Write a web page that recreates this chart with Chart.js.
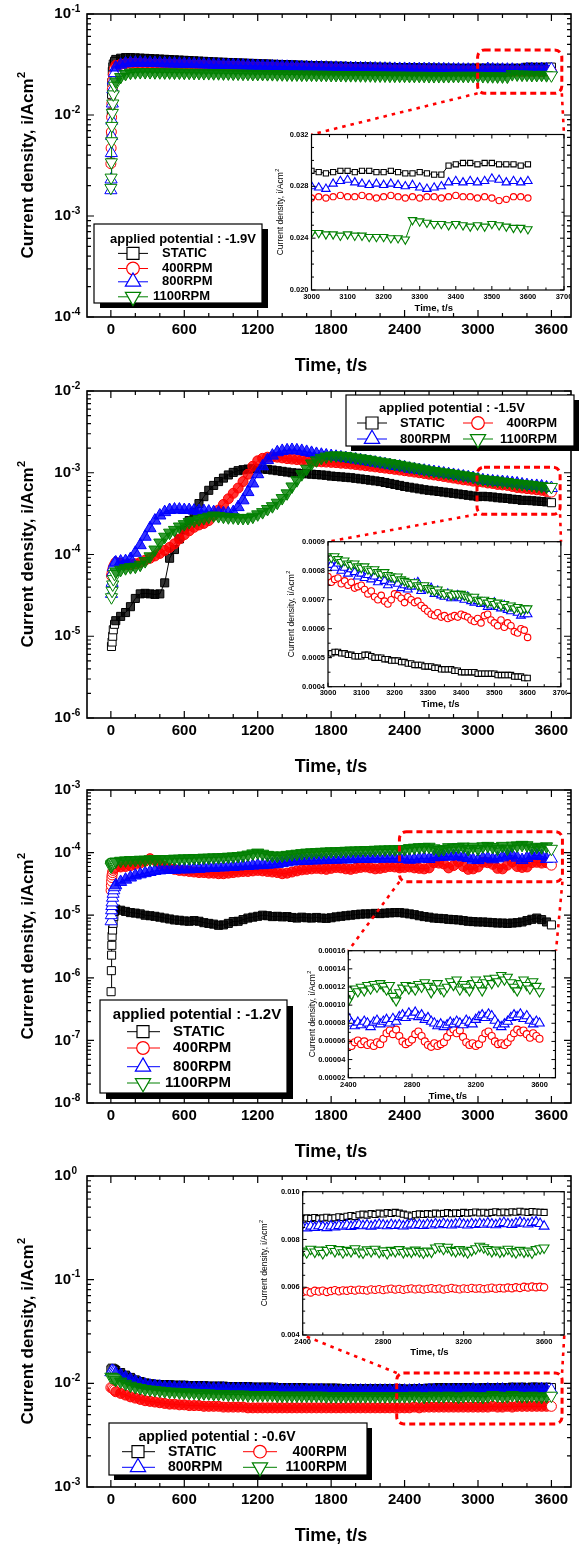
<!DOCTYPE html>
<html>
<head>
<meta charset="utf-8">
<title>Current density vs time</title>
<script src="https://cdn.jsdelivr.net/npm/chart.js@4.4.1/dist/chart.umd.min.js"></script>
<style>
  html, body { margin: 0; padding: 0; background: #fff; }
  #fig { position: relative; width: 579px; height: 1544px; overflow: hidden; background: #fff; }
  #fig canvas { position: absolute; }
</style>
</head>
<body>
<div id="fig"></div>
<script>
// ---------- categories / tick labels ----------
const seriesNames = ['STATIC', '400RPM', '800RPM', '1100RPM'];
const potentials = ['-1.9V', '-1.5V', '-1.2V', '-0.6V'];
const xTickLabels = [0, 600, 1200, 1800, 2400, 3000, 3600];
const decades1 = [-4, -3, -2, -1];
const decades2 = [-6, -5, -4, -3, -2];
const decades3 = [-8, -7, -6, -5, -4, -3];
const decades4 = [-3, -2, -1, 0];
const zoomTicksShort = [3000, 3100, 3200, 3300, 3400, 3500, 3600, 3700];
const zoomTicksLong = [2400, 2800, 3200, 3600];
const zoom1Y = [0.020, 0.024, 0.028, 0.032];
const zoom2Y = [0.0004, 0.0005, 0.0006, 0.0007, 0.0008, 0.0009];
const zoom3Y = [0.00002, 0.00004, 0.00006, 0.00008, 0.00010, 0.00012, 0.00014, 0.00016];
const zoom4Y = [0.004, 0.006, 0.008, 0.010];

// ---------- sampling times, s ----------
const tMain = [
  40, 80, 120, 160, 200, 240, 280, 320, 360, 400,
  440, 480, 520, 560, 600, 640, 680, 720, 760, 800,
  840, 880, 920, 960, 1000, 1040, 1080, 1120, 1160, 1200,
  1240, 1280, 1320, 1360, 1400, 1440, 1480, 1520, 1560, 1600,
  1640, 1680, 1720, 1760, 1800, 1840, 1880, 1920, 1960, 2000,
  2040, 2080, 2120, 2160, 2200, 2240, 2280, 2320, 2360, 2400,
  2440, 2480, 2520, 2560, 2600, 2640, 2680, 2720, 2760, 2800,
  2840, 2880, 2920, 2960, 3000, 3040, 3080, 3120, 3160, 3200,
  3240, 3280, 3320, 3360, 3400, 3440, 3480, 3520, 3560, 3600
];
const p1Head = [0, 2, 4, 6, 8, 12, 16, 20, 30];
const p2Head = [5, 10, 15, 20, 30];
const p3Head = [2, 4, 6, 8, 10, 14, 18, 24, 30];
const p4Head = [0, 10, 20, 30];
const tZoom20 = [
  3000, 3020, 3040, 3060, 3080, 3100, 3120, 3140, 3160, 3180,
  3200, 3220, 3240, 3260, 3280, 3300, 3320, 3340, 3360, 3380,
  3400, 3420, 3440, 3460, 3480, 3500, 3520, 3540, 3560, 3580, 3600
];
const tZoom10 = [
  3000, 3010, 3020, 3030, 3040, 3050, 3060, 3070, 3080, 3090,
  3100, 3110, 3120, 3130, 3140, 3150, 3160, 3170, 3180, 3190,
  3200, 3210, 3220, 3230, 3240, 3250, 3260, 3270, 3280, 3290,
  3300, 3310, 3320, 3330, 3340, 3350, 3360, 3370, 3380, 3390,
  3400, 3410, 3420, 3430, 3440, 3450, 3460, 3470, 3480, 3490,
  3500, 3510, 3520, 3530, 3540, 3550, 3560, 3570, 3580, 3590, 3600
];
const tZoomLong = [
  2400, 2420, 2440, 2460, 2480, 2500, 2520, 2540, 2560, 2580,
  2600, 2620, 2640, 2660, 2680, 2700, 2720, 2740, 2760, 2780,
  2800, 2820, 2840, 2860, 2880, 2900, 2920, 2940, 2960, 2980,
  3000, 3020, 3040, 3060, 3080, 3100, 3120, 3140, 3160, 3180,
  3200, 3220, 3240, 3260, 3280, 3300, 3320, 3340, 3360, 3380,
  3400, 3420, 3440, 3460, 3480, 3500, 3520, 3540, 3560, 3580, 3600
];

// ---------- -1.9 V, current density (A/cm2) ----------
const p1Static = [
  0.0034, 0.0062, 0.0105, 0.016, 0.021, 0.027, 0.030, 0.032, 0.034,
  0.0355, 0.0365, 0.037, 0.037, 0.0368, 0.0366, 0.0364, 0.0362, 0.036, 0.0358,
  0.0356, 0.0354, 0.0352, 0.035, 0.0348, 0.0346, 0.0344, 0.0342, 0.034, 0.0338,
  0.0336, 0.0334, 0.0333, 0.0331, 0.033, 0.0328, 0.0327, 0.0325, 0.0324, 0.0322,
  0.0321, 0.032, 0.0318, 0.0317, 0.0316, 0.0315, 0.0314, 0.0312, 0.0311, 0.031,
  0.0309, 0.0308, 0.0307, 0.0306, 0.0305, 0.0304, 0.0304, 0.0303, 0.0302, 0.0301,
  0.030, 0.030, 0.0299, 0.0298, 0.0297, 0.0297, 0.0296, 0.0295, 0.0295, 0.0294,
  0.0294, 0.0293, 0.0293, 0.0292, 0.0292, 0.0292, 0.0291, 0.0291, 0.0291, 0.029,
  0.029, 0.029, 0.029, 0.0291, 0.0291, 0.029, 0.0291, 0.029, 0.029, 0.029,
  0.0289, 0.029, 0.029, 0.029, 0.0297, 0.0297, 0.0296, 0.0297, 0.0297, 0.0298
];
const p1R400 = [
  0.0033, 0.0047, 0.0068, 0.0095, 0.013, 0.018, 0.022, 0.025, 0.029,
  0.031, 0.0318, 0.0322, 0.0324, 0.0324, 0.0323, 0.0322, 0.0321, 0.032, 0.0319,
  0.0318, 0.0317, 0.0316, 0.0314, 0.0313, 0.0312, 0.0311, 0.031, 0.0309, 0.0308,
  0.0307, 0.0306, 0.0305, 0.0304, 0.0303, 0.0302, 0.0301, 0.030, 0.0299, 0.0298,
  0.0297, 0.0296, 0.0295, 0.0294, 0.0293, 0.0292, 0.0291, 0.029, 0.029, 0.0289,
  0.0288, 0.0287, 0.0287, 0.0286, 0.0285, 0.0285, 0.0284, 0.0283, 0.0283, 0.0282,
  0.0282, 0.0281, 0.0281, 0.028, 0.028, 0.0279, 0.0279, 0.0278, 0.0278, 0.0277,
  0.0277, 0.0276, 0.0276, 0.0276, 0.0275, 0.0275, 0.0275, 0.0274, 0.0274, 0.0274,
  0.0273, 0.0273, 0.0273, 0.0272, 0.0271, 0.0272, 0.0272, 0.0272, 0.0271, 0.0272,
  0.0272, 0.0271, 0.0272, 0.0271, 0.0272, 0.0271, 0.0272, 0.0269, 0.0272, 0.0271
];
const p1R800 = [
  0.0018, 0.0023, 0.0042, 0.0062, 0.0088, 0.013, 0.018, 0.022, 0.026,
  0.0295, 0.0315, 0.0325, 0.0328, 0.033, 0.033, 0.0329, 0.0328, 0.0327, 0.0326,
  0.0325, 0.0324, 0.0323, 0.0322, 0.0321, 0.032, 0.0319, 0.0318, 0.0317, 0.0316,
  0.0315, 0.0314, 0.0313, 0.0312, 0.0311, 0.031, 0.0309, 0.0308, 0.0307, 0.0306,
  0.0305, 0.0304, 0.0303, 0.0302, 0.0301, 0.030, 0.0299, 0.0298, 0.0298, 0.0297,
  0.0296, 0.0295, 0.0295, 0.0294, 0.0293, 0.0293, 0.0292, 0.0291, 0.0291, 0.029,
  0.029, 0.0289, 0.0289, 0.0288, 0.0288, 0.0287, 0.0287, 0.0286, 0.0286, 0.0286,
  0.0285, 0.0285, 0.0284, 0.0284, 0.0284, 0.0283, 0.0283, 0.0283, 0.0282, 0.0282,
  0.0282, 0.0281, 0.0281, 0.028, 0.028, 0.0279, 0.0285, 0.0282, 0.0281, 0.0281,
  0.0281, 0.0281, 0.0278, 0.028, 0.0284, 0.0284, 0.0284, 0.0285, 0.0284, 0.0284
];
const p1R1100 = [
  0.0019, 0.0024, 0.0034, 0.0055, 0.0078, 0.0105, 0.013, 0.016, 0.0195,
  0.0215, 0.0238, 0.0255, 0.0262, 0.0265, 0.0266, 0.0266, 0.0266, 0.0265, 0.0265,
  0.0264, 0.0264, 0.0263, 0.0263, 0.0262, 0.0262, 0.0261, 0.0261, 0.026, 0.026,
  0.0259, 0.0259, 0.0258, 0.0258, 0.0257, 0.0257, 0.0256, 0.0256, 0.0255, 0.0255,
  0.0255, 0.0254, 0.0254, 0.0253, 0.0253, 0.0252, 0.0252, 0.0252, 0.0251, 0.0251,
  0.0251, 0.025, 0.025, 0.025, 0.0249, 0.0249, 0.0249, 0.0248, 0.0248, 0.0248,
  0.0247, 0.0247, 0.0247, 0.0246, 0.0246, 0.0246, 0.0245, 0.0245, 0.0245, 0.0245,
  0.0244, 0.0244, 0.0244, 0.0244, 0.0243, 0.0243, 0.0243, 0.0243, 0.0243, 0.0244,
  0.0244, 0.0244, 0.0244, 0.0244, 0.0244, 0.0243, 0.0242, 0.0242, 0.0241, 0.0241,
  0.024, 0.0254, 0.0252, 0.0251, 0.0251, 0.0249, 0.0249, 0.025, 0.0248, 0.0247
];
// -1.9 V close-up, 3000-3600 s
const z1Static = [
  0.0292, 0.0291, 0.029, 0.0291, 0.0292, 0.0292, 0.0291, 0.0292, 0.0292, 0.0291,
  0.0291, 0.0292, 0.0291, 0.029, 0.029, 0.0291, 0.029, 0.0289, 0.0289, 0.0296,
  0.0297, 0.0298, 0.0298, 0.0297, 0.0298, 0.0298, 0.0297, 0.0297, 0.0297, 0.0296, 0.0297
];
const z1R400 = [
  0.0271, 0.0272, 0.0271, 0.0272, 0.0273, 0.0272, 0.0272, 0.0273, 0.0272, 0.0271,
  0.0272, 0.0273, 0.0272, 0.0271, 0.0272, 0.0271, 0.0272, 0.0272, 0.0271, 0.0272,
  0.0273, 0.0272, 0.0272, 0.0271, 0.0272, 0.0271, 0.0269, 0.027, 0.0272, 0.0272, 0.0271
];
const z1R800 = [
  0.028, 0.0279, 0.0278, 0.0282, 0.0284, 0.0285, 0.0283, 0.0282, 0.0281, 0.0282,
  0.0281, 0.0282, 0.0281, 0.028, 0.0281, 0.0279, 0.0278, 0.0279, 0.028, 0.0283,
  0.0284, 0.0283, 0.0284, 0.0283, 0.0284, 0.0286, 0.0285, 0.0283, 0.0284, 0.0283, 0.0284
];
const z1R1100 = [
  0.0244, 0.0244, 0.0243, 0.0243, 0.0242, 0.0243, 0.0242, 0.0242, 0.0241, 0.0241,
  0.0241, 0.024, 0.024, 0.0239, 0.0254, 0.0253, 0.0252, 0.0251, 0.0251, 0.025,
  0.0251, 0.025, 0.0249, 0.025, 0.0249, 0.0251, 0.025, 0.0249, 0.0248, 0.0248, 0.0247
];

// ---------- -1.5 V ----------
const p2Static = [
  7.5e-6, 8.5e-6, 1.0e-5, 1.2e-5, 1.4e-5,
  1.55e-5, 1.75e-5, 1.95e-5, 2.3e-5, 2.9e-5, 3.3e-5, 3.35e-5, 3.3e-5, 3.25e-5, 3.3e-5,
  4.5e-5, 9.0e-5, 1.15e-4, 1.55e-4, 2.0e-4, 2.6e-4, 3.3e-4, 4.2e-4, 5.1e-4, 6.1e-4,
  7.0e-4, 7.8e-4, 8.6e-4, 9.4e-4, 1.01e-3, 1.06e-3, 1.09e-3, 1.11e-3, 1.12e-3, 1.12e-3,
  1.11e-3, 1.1e-3, 1.08e-3, 1.06e-3, 1.04e-3, 1.02e-3, 1.0e-3, 9.9e-4, 9.8e-4, 9.7e-4,
  9.6e-4, 9.5e-4, 9.4e-4, 9.3e-4, 9.1e-4, 9.0e-4, 8.9e-4, 8.8e-4, 8.7e-4, 8.55e-4,
  8.4e-4, 8.25e-4, 8.1e-4, 7.95e-4, 7.8e-4, 7.6e-4, 7.4e-4, 7.2e-4, 7.0e-4, 6.8e-4,
  6.65e-4, 6.5e-4, 6.35e-4, 6.2e-4, 6.1e-4, 6.0e-4, 5.9e-4, 5.8e-4, 5.7e-4, 5.6e-4,
  5.5e-4, 5.4e-4, 5.3e-4, 5.2e-4, 5.1e-4, 5.15e-4, 5.1e-4, 5.05e-4, 4.95e-4, 4.9e-4,
  4.85e-4, 4.75e-4, 4.7e-4, 4.6e-4, 4.6e-4, 4.55e-4, 4.5e-4, 4.45e-4, 4.4e-4, 4.3e-4
];
const p2R400 = [
  5.5e-5, 6.0e-5, 6.5e-5, 7.0e-5, 7.5e-5,
  8.0e-5, 7.8e-5, 7.5e-5, 7.5e-5, 7.7e-5, 8.0e-5, 8.5e-5, 9.0e-5, 9.6e-5, 1.03e-4,
  1.12e-4, 1.22e-4, 1.35e-4, 1.55e-4, 1.75e-4, 1.95e-4, 2.15e-4, 2.3e-4, 2.4e-4, 2.6e-4,
  3.0e-4, 3.5e-4, 4.1e-4, 4.8e-4, 5.6e-4, 6.5e-4, 7.8e-4, 9.6e-4, 1.2e-3, 1.4e-3,
  1.5e-3, 1.55e-3, 1.56e-3, 1.55e-3, 1.52e-3, 1.49e-3, 1.47e-3, 1.45e-3, 1.43e-3, 1.41e-3,
  1.39e-3, 1.37e-3, 1.36e-3, 1.35e-3, 1.34e-3, 1.33e-3, 1.31e-3, 1.3e-3, 1.28e-3, 1.26e-3,
  1.24e-3, 1.22e-3, 1.2e-3, 1.18e-3, 1.16e-3, 1.14e-3, 1.12e-3, 1.1e-3, 1.08e-3, 1.06e-3,
  1.04e-3, 1.02e-3, 1.0e-3, 9.8e-4, 9.6e-4, 9.4e-4, 9.2e-4, 9.0e-4, 8.8e-4, 8.6e-4,
  8.4e-4, 8.2e-4, 8.1e-4, 7.9e-4, 7.8e-4, 7.7e-4, 7.5e-4, 7.4e-4, 7.2e-4, 7.1e-4,
  7.0e-4, 6.8e-4, 6.6e-4, 6.5e-4, 6.4e-4, 6.3e-4, 6.2e-4, 6.1e-4, 5.9e-4, 5.8e-4
];
const p2R800 = [
  3.3e-5, 4.5e-5, 6.0e-5, 7.0e-5, 7.8e-5,
  8.0e-5, 8.2e-5, 8.3e-5, 8.8e-5, 1.05e-4, 1.3e-4, 1.65e-4, 2.1e-4, 2.6e-4, 3.0e-4,
  3.3e-4, 3.5e-4, 3.55e-4, 3.55e-4, 3.5e-4, 3.5e-4, 3.45e-4, 3.4e-4, 3.4e-4, 3.35e-4,
  3.3e-4, 3.25e-4, 3.2e-4, 3.2e-4, 3.3e-4, 3.8e-4, 4.6e-4, 5.8e-4, 7.4e-4, 9.6e-4,
  1.2e-3, 1.43e-3, 1.62e-3, 1.78e-3, 1.85e-3, 1.88e-3, 1.9e-3, 1.88e-3, 1.85e-3, 1.8e-3,
  1.75e-3, 1.7e-3, 1.66e-3, 1.63e-3, 1.6e-3, 1.57e-3, 1.54e-3, 1.51e-3, 1.48e-3, 1.45e-3,
  1.42e-3, 1.39e-3, 1.36e-3, 1.33e-3, 1.3e-3, 1.27e-3, 1.24e-3, 1.21e-3, 1.19e-3, 1.16e-3,
  1.12e-3, 1.1e-3, 1.08e-3, 1.06e-3, 1.04e-3, 1.02e-3, 1.0e-3, 9.8e-4, 9.6e-4, 9.4e-4,
  9.2e-4, 9.0e-4, 8.8e-4, 8.6e-4, 8.3e-4, 8.1e-4, 7.95e-4, 7.85e-4, 7.75e-4, 7.7e-4,
  7.6e-4, 7.5e-4, 7.4e-4, 7.2e-4, 7.05e-4, 6.9e-4, 6.9e-4, 6.8e-4, 6.6e-4, 6.5e-4
];
const p2R1100 = [
  3.0e-5, 3.6e-5, 4.3e-5, 5.0e-5, 5.8e-5,
  6.2e-5, 6.5e-5, 6.8e-5, 7.0e-5, 7.1e-5, 7.5e-5, 8.3e-5, 9.5e-5, 1.15e-4, 1.4e-4,
  1.65e-4, 1.85e-4, 2.0e-4, 2.2e-4, 2.35e-4, 2.5e-4, 2.6e-4, 2.7e-4, 2.8e-4, 2.9e-4,
  3.0e-4, 2.95e-4, 2.9e-4, 2.85e-4, 2.85e-4, 2.8e-4, 2.8e-4, 2.8e-4, 2.9e-4, 3.1e-4,
  3.3e-4, 3.6e-4, 3.9e-4, 4.3e-4, 4.9e-4, 5.6e-4, 6.8e-4, 8.1e-4, 9.6e-4, 1.12e-3,
  1.3e-3, 1.42e-3, 1.52e-3, 1.58e-3, 1.62e-3, 1.63e-3, 1.62e-3, 1.6e-3, 1.57e-3, 1.53e-3,
  1.5e-3, 1.47e-3, 1.44e-3, 1.4e-3, 1.37e-3, 1.34e-3, 1.31e-3, 1.28e-3, 1.25e-3, 1.22e-3,
  1.19e-3, 1.16e-3, 1.13e-3, 1.1e-3, 1.07e-3, 1.05e-3, 1.03e-3, 1.01e-3, 9.9e-4, 9.7e-4,
  9.5e-4, 9.3e-4, 9.1e-4, 8.9e-4, 8.5e-4, 8.35e-4, 8.2e-4, 8.1e-4, 8.0e-4, 7.8e-4,
  7.7e-4, 7.5e-4, 7.4e-4, 7.3e-4, 7.2e-4, 7.1e-4, 6.95e-4, 6.85e-4, 6.75e-4, 6.7e-4
];
// -1.5 V close-up, 3000-3600 s
const z2Static = [
  5.1e-4, 5.15e-4, 5.2e-4, 5.2e-4, 5.15e-4, 5.15e-4, 5.1e-4, 5.1e-4, 5.05e-4, 5.05e-4,
  5.05e-4, 5.1e-4, 5.1e-4, 5.05e-4, 5.0e-4, 5.0e-4, 5.0e-4, 4.95e-4, 4.95e-4, 4.9e-4,
  4.9e-4, 4.9e-4, 4.85e-4, 4.85e-4, 4.8e-4, 4.8e-4, 4.75e-4, 4.75e-4, 4.75e-4, 4.7e-4,
  4.7e-4, 4.7e-4, 4.65e-4, 4.65e-4, 4.6e-4, 4.6e-4, 4.6e-4, 4.6e-4, 4.55e-4, 4.55e-4,
  4.5e-4, 4.5e-4, 4.5e-4, 4.5e-4, 4.5e-4, 4.45e-4, 4.45e-4, 4.45e-4, 4.45e-4, 4.45e-4,
  4.45e-4, 4.4e-4, 4.4e-4, 4.4e-4, 4.4e-4, 4.4e-4, 4.35e-4, 4.35e-4, 4.35e-4, 4.3e-4, 4.3e-4
];
const z2R400 = [
  7.8e-4, 7.6e-4, 7.7e-4, 7.75e-4, 7.55e-4, 7.65e-4, 7.5e-4, 7.6e-4, 7.4e-4, 7.45e-4,
  7.5e-4, 7.35e-4, 7.2e-4, 7.3e-4, 7.1e-4, 7.0e-4, 7.15e-4, 6.95e-4, 6.85e-4, 7.0e-4,
  7.2e-4, 7.15e-4, 7.05e-4, 6.9e-4, 7.1e-4, 7.0e-4, 6.9e-4, 6.95e-4, 6.8e-4, 6.7e-4,
  6.6e-4, 6.5e-4, 6.45e-4, 6.55e-4, 6.4e-4, 6.45e-4, 6.35e-4, 6.4e-4, 6.45e-4, 6.4e-4,
  6.5e-4, 6.45e-4, 6.4e-4, 6.3e-4, 6.25e-4, 6.35e-4, 6.2e-4, 6.45e-4, 6.5e-4, 6.3e-4,
  6.2e-4, 6.1e-4, 6.3e-4, 6.05e-4, 6.2e-4, 6.1e-4, 5.9e-4, 5.85e-4, 6.0e-4, 5.95e-4, 5.7e-4
];
const z2R800 = [
  8.35e-4, 8.2e-4, 8.1e-4, 8.25e-4, 8.0e-4, 8.1e-4, 7.9e-4, 8.05e-4, 7.95e-4, 7.8e-4,
  7.9e-4, 7.75e-4, 7.85e-4, 7.7e-4, 7.8e-4, 7.6e-4, 7.75e-4, 7.65e-4, 7.5e-4, 7.6e-4,
  7.7e-4, 7.55e-4, 7.4e-4, 7.5e-4, 7.35e-4, 7.45e-4, 7.55e-4, 7.6e-4, 7.3e-4, 7.4e-4,
  7.35e-4, 7.4e-4, 7.2e-4, 7.3e-4, 7.15e-4, 7.1e-4, 7.2e-4, 7.05e-4, 7.1e-4, 7.15e-4,
  7.05e-4, 7.0e-4, 7.1e-4, 6.95e-4, 6.9e-4, 6.95e-4, 6.85e-4, 6.9e-4, 6.75e-4, 6.8e-4,
  6.9e-4, 6.75e-4, 6.7e-4, 6.8e-4, 6.65e-4, 6.6e-4, 6.7e-4, 6.55e-4, 6.45e-4, 6.5e-4, 6.5e-4
];
const z2R1100 = [
  8.5e-4, 8.45e-4, 8.5e-4, 8.4e-4, 8.3e-4, 8.35e-4, 8.25e-4, 8.2e-4, 8.25e-4, 8.15e-4,
  8.1e-4, 8.15e-4, 8.05e-4, 8.0e-4, 8.05e-4, 7.95e-4, 7.9e-4, 7.95e-4, 7.85e-4, 7.8e-4,
  7.75e-4, 7.8e-4, 7.7e-4, 7.65e-4, 7.6e-4, 7.55e-4, 7.6e-4, 7.5e-4, 7.45e-4, 7.5e-4,
  7.4e-4, 7.35e-4, 7.3e-4, 7.35e-4, 7.25e-4, 7.2e-4, 7.25e-4, 7.15e-4, 7.2e-4, 7.2e-4,
  7.2e-4, 7.15e-4, 7.1e-4, 7.05e-4, 7.1e-4, 7.0e-4, 6.95e-4, 7.0e-4, 6.9e-4, 6.95e-4,
  6.85e-4, 6.9e-4, 6.8e-4, 6.85e-4, 6.75e-4, 6.8e-4, 6.7e-4, 6.75e-4, 6.65e-4, 6.7e-4, 6.7e-4
];

// ---------- -1.2 V ----------
const p3Static = [
  6.0e-7, 1.3e-6, 2.3e-6, 3.3e-6, 4.6e-6, 5.8e-6, 7.4e-6, 9.5e-6, 1.15e-5,
  1.25e-5, 1.2e-5, 1.15e-5, 1.1e-5, 1.08e-5, 1.05e-5, 1.0e-5, 9.8e-6, 9.6e-6, 9.3e-6,
  9.0e-6, 8.7e-6, 8.4e-6, 8.3e-6, 8.1e-6, 8.0e-6, 8.2e-6, 8.0e-6, 7.6e-6, 7.4e-6,
  7.2e-6, 6.9e-6, 7.0e-6, 7.4e-6, 7.9e-6, 8.0e-6, 8.5e-6, 9.0e-6, 9.3e-6, 9.6e-6,
  1.0e-5, 9.8e-6, 9.5e-6, 9.6e-6, 9.4e-6, 9.5e-6, 9.2e-6, 9.0e-6, 9.3e-6, 9.1e-6,
  9.0e-6, 9.2e-6, 9.0e-6, 8.9e-6, 9.1e-6, 9.4e-6, 9.6e-6, 9.8e-6, 1.0e-5, 1.02e-5,
  1.04e-5, 1.05e-5, 1.05e-5, 1.07e-5, 1.06e-5, 1.08e-5, 1.09e-5, 1.1e-5, 1.1e-5, 1.08e-5,
  1.05e-5, 1.02e-5, 9.8e-6, 9.5e-6, 9.3e-6, 9.0e-6, 8.9e-6, 8.8e-6, 8.6e-6, 8.5e-6,
  8.4e-6, 8.2e-6, 8.0e-6, 7.9e-6, 7.8e-6, 7.8e-6, 7.7e-6, 7.6e-6, 7.5e-6, 7.5e-6,
  7.4e-6, 7.5e-6, 7.6e-6, 7.8e-6, 8.2e-6, 8.6e-6, 9.0e-6, 8.5e-6, 7.8e-6, 7.0e-6
];
const p3R400 = [
  2.5e-5, 3.0e-5, 3.5e-5, 4.0e-5, 4.4e-5, 4.8e-5, 5.2e-5, 5.5e-5, 5.7e-5,
  5.8e-5, 5.9e-5, 6.0e-5, 6.2e-5, 6.5e-5, 6.8e-5, 7.3e-5, 8.0e-5, 7.5e-5, 6.6e-5,
  6.0e-5, 5.6e-5, 5.4e-5, 5.2e-5, 5.1e-5, 5.0e-5, 4.9e-5, 4.8e-5, 4.8e-5, 4.7e-5,
  4.7e-5, 4.6e-5, 4.6e-5, 4.7e-5, 4.8e-5, 4.9e-5, 5.0e-5, 5.0e-5, 5.1e-5, 5.2e-5,
  5.1e-5, 5.0e-5, 4.9e-5, 4.8e-5, 4.6e-5, 4.7e-5, 4.9e-5, 5.1e-5, 5.3e-5, 5.4e-5,
  5.5e-5, 5.6e-5, 5.5e-5, 5.4e-5, 5.6e-5, 5.8e-5, 5.7e-5, 5.5e-5, 5.4e-5, 5.6e-5,
  5.8e-5, 5.9e-5, 5.7e-5, 5.5e-5, 5.6e-5, 5.8e-5, 6.0e-5, 5.9e-5, 5.7e-5, 5.8e-5,
  5.9e-5, 5.7e-5, 5.6e-5, 5.5e-5, 5.7e-5, 6.9e-5, 6.8e-5, 6.6e-5, 5.7e-5, 6.2e-5,
  7.1e-5, 6.0e-5, 5.4e-5, 5.5e-5, 5.9e-5, 7.0e-5, 6.9e-5, 6.5e-5, 5.6e-5, 5.5e-5,
  6.3e-5, 7.1e-5, 6.0e-5, 5.8e-5, 5.9e-5, 6.9e-5, 7.0e-5, 6.8e-5, 6.9e-5, 6.3e-5
];
const p3R800 = [
  8.0e-6, 1.0e-5, 1.2e-5, 1.4e-5, 1.6e-5, 1.9e-5, 2.2e-5, 2.5e-5, 2.8e-5,
  3.0e-5, 3.4e-5, 3.7e-5, 4.0e-5, 4.3e-5, 4.5e-5, 4.7e-5, 4.9e-5, 5.1e-5, 5.2e-5,
  5.3e-5, 5.3e-5, 5.3e-5, 5.4e-5, 5.4e-5, 5.4e-5, 5.5e-5, 5.5e-5, 5.6e-5, 5.7e-5,
  5.7e-5, 5.8e-5, 5.8e-5, 5.9e-5, 5.9e-5, 6.0e-5, 6.1e-5, 6.1e-5, 6.2e-5, 6.3e-5,
  6.3e-5, 6.4e-5, 6.5e-5, 6.6e-5, 6.8e-5, 7.0e-5, 7.2e-5, 7.3e-5, 7.4e-5, 7.4e-5,
  7.5e-5, 7.5e-5, 7.6e-5, 7.6e-5, 7.7e-5, 7.7e-5, 7.8e-5, 7.8e-5, 7.8e-5, 7.9e-5,
  7.9e-5, 7.9e-5, 8.0e-5, 8.0e-5, 8.0e-5, 8.0e-5, 8.1e-5, 8.0e-5, 8.0e-5, 8.0e-5,
  7.7e-5, 7.8e-5, 8.0e-5, 8.1e-5, 7.9e-5, 8.4e-5, 8.5e-5, 8.7e-5, 8.6e-5, 8.8e-5,
  8.7e-5, 8.4e-5, 8.2e-5, 7.7e-5, 7.6e-5, 8.1e-5, 8.2e-5, 7.8e-5, 8.1e-5, 8.4e-5,
  8.9e-5, 9.0e-5, 8.3e-5, 7.6e-5, 8.2e-5, 8.9e-5, 9.0e-5, 8.8e-5, 7.9e-5, 8.0e-5
];
const p3R1100 = [
  6.0e-5, 6.2e-5, 6.4e-5, 6.5e-5, 6.6e-5, 6.7e-5, 6.8e-5, 7.0e-5, 7.1e-5,
  7.2e-5, 7.4e-5, 7.5e-5, 7.6e-5, 7.6e-5, 7.7e-5, 7.7e-5, 7.8e-5, 7.8e-5, 7.9e-5,
  7.9e-5, 7.9e-5, 8.0e-5, 8.0e-5, 8.1e-5, 8.1e-5, 8.2e-5, 8.2e-5, 8.3e-5, 8.3e-5,
  8.4e-5, 8.4e-5, 8.5e-5, 8.6e-5, 8.7e-5, 8.8e-5, 9.0e-5, 9.3e-5, 9.7e-5, 1.0e-4,
  9.6e-5, 9.2e-5, 9.0e-5, 8.9e-5, 9.0e-5, 9.2e-5, 9.4e-5, 9.6e-5, 9.8e-5, 1.0e-4,
  1.01e-4, 1.02e-4, 1.03e-4, 1.04e-4, 1.05e-4, 1.05e-4, 1.06e-4, 1.07e-4, 1.08e-4, 1.08e-4,
  1.09e-4, 1.1e-4, 1.1e-4, 1.11e-4, 1.12e-4, 1.12e-4, 1.13e-4, 1.13e-4, 1.14e-4, 1.14e-4,
  1.18e-4, 1.2e-4, 1.22e-4, 1.23e-4, 1.24e-4, 1.17e-4, 1.1e-4, 1.14e-4, 1.22e-4, 1.21e-4,
  1.23e-4, 1.25e-4, 1.14e-4, 1.24e-4, 1.15e-4, 1.26e-4, 1.28e-4, 1.23e-4, 1.16e-4, 1.28e-4,
  1.16e-4, 1.29e-4, 1.3e-4, 1.33e-4, 1.31e-4, 1.2e-4, 1.24e-4, 1.22e-4, 1.26e-4, 1.15e-4
];
// -1.2 V close-up, 2400-3600 s
const z3R400 = [
  5.8e-5, 5.5e-5, 5.9e-5, 6.1e-5, 5.7e-5, 6.0e-5, 5.6e-5, 5.8e-5, 5.5e-5, 5.9e-5,
  5.7e-5, 6.3e-5, 6.9e-5, 7.2e-5, 6.8e-5, 7.3e-5, 6.6e-5, 6.0e-5, 5.7e-5, 5.9e-5,
  6.2e-5, 6.8e-5, 7.1e-5, 6.6e-5, 6.0e-5, 5.6e-5, 5.4e-5, 5.8e-5, 5.5e-5, 5.7e-5,
  5.9e-5, 6.5e-5, 7.0e-5, 7.3e-5, 6.9e-5, 7.2e-5, 6.5e-5, 5.9e-5, 5.6e-5, 5.8e-5,
  5.5e-5, 5.7e-5, 6.3e-5, 6.9e-5, 7.1e-5, 6.6e-5, 6.0e-5, 5.7e-5, 5.8e-5, 5.6e-5,
  5.9e-5, 6.4e-5, 6.9e-5, 7.3e-5, 7.0e-5, 7.2e-5, 6.8e-5, 6.4e-5, 6.9e-5, 6.6e-5, 6.3e-5
];
const z3R800 = [
  8.6e-5, 8.0e-5, 7.7e-5, 8.1e-5, 7.8e-5, 8.2e-5, 8.0e-5, 7.6e-5, 8.1e-5, 8.3e-5,
  7.9e-5, 8.2e-5, 8.4e-5, 8.0e-5, 8.5e-5, 8.2e-5, 8.7e-5, 8.9e-5, 8.6e-5, 9.1e-5,
  8.8e-5, 9.2e-5, 8.7e-5, 8.9e-5, 8.4e-5, 8.6e-5, 8.2e-5, 8.0e-5, 7.7e-5, 7.9e-5,
  7.6e-5, 7.8e-5, 8.1e-5, 7.9e-5, 8.2e-5, 8.0e-5, 7.8e-5, 8.3e-5, 8.1e-5, 7.9e-5,
  8.4e-5, 8.7e-5, 8.9e-5, 8.6e-5, 9.0e-5, 8.8e-5, 8.3e-5, 7.8e-5, 7.6e-5, 7.9e-5,
  8.2e-5, 8.6e-5, 8.9e-5, 8.7e-5, 9.0e-5, 8.5e-5, 8.8e-5, 8.3e-5, 7.9e-5, 8.2e-5, 8.0e-5
];
const z3R1100 = [
  1.05e-4, 1.12e-4, 1.18e-4, 1.15e-4, 1.2e-4, 1.16e-4, 1.22e-4, 1.18e-4, 1.23e-4, 1.2e-4,
  1.24e-4, 1.21e-4, 1.17e-4, 1.22e-4, 1.1e-4, 1.05e-4, 1.14e-4, 1.19e-4, 1.22e-4, 1.18e-4,
  1.21e-4, 1.17e-4, 1.23e-4, 1.2e-4, 1.25e-4, 1.21e-4, 1.14e-4, 1.19e-4, 1.24e-4, 1.18e-4,
  1.15e-4, 1.2e-4, 1.26e-4, 1.22e-4, 1.28e-4, 1.17e-4, 1.23e-4, 1.2e-4, 1.16e-4, 1.24e-4,
  1.28e-4, 1.22e-4, 1.16e-4, 1.25e-4, 1.29e-4, 1.24e-4, 1.3e-4, 1.26e-4, 1.33e-4, 1.28e-4,
  1.31e-4, 1.25e-4, 1.2e-4, 1.16e-4, 1.24e-4, 1.28e-4, 1.22e-4, 1.18e-4, 1.26e-4, 1.21e-4, 1.15e-4
];

// ---------- -0.6 V ----------
const p4Static = [
  0.0135, 0.014, 0.0138, 0.0136,
  0.0133, 0.0127, 0.012, 0.0114, 0.0108, 0.0104, 0.0101, 0.0099, 0.0098, 0.0097,
  0.0097, 0.0097, 0.0096, 0.0096, 0.0096, 0.0095, 0.0095, 0.0095, 0.0095, 0.0094,
  0.0094, 0.0094, 0.0094, 0.0093, 0.0093, 0.0093, 0.0093, 0.0093, 0.0092, 0.0092,
  0.0092, 0.0092, 0.0092, 0.0091, 0.0091, 0.0091, 0.0091, 0.0091, 0.0091, 0.009,
  0.009, 0.009, 0.009, 0.009, 0.009, 0.009, 0.0089, 0.0089, 0.0089, 0.0089,
  0.0089, 0.0089, 0.0089, 0.0089, 0.0089, 0.0089, 0.0089, 0.0089, 0.0089, 0.0088,
  0.0088, 0.0089, 0.0089, 0.0089, 0.009, 0.009, 0.0091, 0.0091, 0.009, 0.0091,
  0.0091, 0.0091, 0.0091, 0.009, 0.009, 0.0091, 0.0091, 0.0091, 0.0091, 0.0091,
  0.0091, 0.0092, 0.0091, 0.0092, 0.0091, 0.0092, 0.0092, 0.0091, 0.0092, 0.0091
];
const p4R400 = [
  0.0091, 0.009, 0.0088, 0.0086,
  0.0083, 0.008, 0.0077, 0.0074, 0.0072, 0.007, 0.0068, 0.0067, 0.0066, 0.0065,
  0.0064, 0.0063, 0.0063, 0.0062, 0.0062, 0.0061, 0.0061, 0.0061, 0.006, 0.006,
  0.006, 0.006, 0.0059, 0.0059, 0.0059, 0.0059, 0.0059, 0.0058, 0.0058, 0.0058,
  0.0058, 0.0058, 0.0058, 0.0058, 0.0058, 0.0058, 0.0058, 0.0058, 0.0058, 0.0058,
  0.0058, 0.0058, 0.0058, 0.0058, 0.0058, 0.0058, 0.0058, 0.0058, 0.0058, 0.0058,
  0.0058, 0.0058, 0.0058, 0.0058, 0.0058, 0.0058, 0.0058, 0.0058, 0.0058, 0.0058,
  0.0058, 0.0059, 0.0058, 0.0059, 0.0059, 0.0059, 0.0059, 0.0059, 0.0059, 0.0059,
  0.0059, 0.0059, 0.0059, 0.0059, 0.0059, 0.0059, 0.0059, 0.006, 0.0059, 0.0059,
  0.006, 0.0059, 0.006, 0.006, 0.006, 0.006, 0.006, 0.006, 0.006, 0.006
];
const p4R800 = [
  0.0128, 0.0132, 0.013, 0.0128,
  0.0125, 0.012, 0.0114, 0.0109, 0.0104, 0.010, 0.0097, 0.0095, 0.0094, 0.0093,
  0.0092, 0.0092, 0.0091, 0.0091, 0.0091, 0.009, 0.009, 0.009, 0.009, 0.0089,
  0.0089, 0.0089, 0.0089, 0.0088, 0.0088, 0.0088, 0.0088, 0.0088, 0.0087, 0.0087,
  0.0087, 0.0087, 0.0087, 0.0087, 0.0086, 0.0086, 0.0086, 0.0086, 0.0086, 0.0086,
  0.0086, 0.0086, 0.0086, 0.0085, 0.0085, 0.0085, 0.0085, 0.0085, 0.0085, 0.0085,
  0.0085, 0.0085, 0.0085, 0.0085, 0.0085, 0.0085, 0.0085, 0.0085, 0.0085, 0.0085,
  0.0085, 0.0085, 0.0086, 0.0085, 0.0086, 0.0086, 0.0085, 0.0086, 0.0086, 0.0086,
  0.0086, 0.0086, 0.0086, 0.0087, 0.0086, 0.0086, 0.0087, 0.0086, 0.0087, 0.0087,
  0.0086, 0.0087, 0.0087, 0.0087, 0.0086, 0.0087, 0.0087, 0.0088, 0.0087, 0.0086
];
const p4R1100 = [
  0.0116, 0.0115, 0.0113, 0.0111,
  0.0108, 0.0104, 0.0099, 0.0095, 0.0092, 0.009, 0.0088, 0.0087, 0.0086, 0.0085,
  0.0084, 0.0083, 0.0083, 0.0082, 0.0082, 0.0081, 0.0081, 0.008, 0.008, 0.008,
  0.0079, 0.0079, 0.0079, 0.0078, 0.0078, 0.0078, 0.0078, 0.0077, 0.0077, 0.0077,
  0.0077, 0.0077, 0.0077, 0.0076, 0.0076, 0.0076, 0.0076, 0.0076, 0.0076, 0.0076,
  0.0076, 0.0076, 0.0076, 0.0075, 0.0075, 0.0075, 0.0075, 0.0075, 0.0075, 0.0075,
  0.0075, 0.0075, 0.0075, 0.0075, 0.0075, 0.0075, 0.0075, 0.0075, 0.0075, 0.0075,
  0.0075, 0.0076, 0.0075, 0.0074, 0.0075, 0.0076, 0.0075, 0.0075, 0.0076, 0.0075,
  0.0074, 0.0075, 0.0076, 0.0075, 0.0075, 0.0074, 0.0075, 0.0077, 0.0076, 0.0075,
  0.0075, 0.0077, 0.0076, 0.0075, 0.0075, 0.0076, 0.0075, 0.0074, 0.0075, 0.0076
];
// -0.6 V close-up, 2400-3600 s
const z4Static = [
  8.85e-3, 8.9e-3, 8.88e-3, 8.92e-3, 8.87e-3, 8.9e-3, 8.93e-3, 8.89e-3, 8.91e-3, 8.95e-3,
  8.92e-3, 8.97e-3, 9.0e-3, 8.96e-3, 9.03e-3, 9.06e-3, 9.02e-3, 9.08e-3, 9.05e-3, 9.1e-3,
  9.07e-3, 9.12e-3, 9.09e-3, 9.13e-3, 9.1e-3, 9.06e-3, 9.02e-3, 8.98e-3, 9.04e-3, 9.07e-3,
  9.05e-3, 9.08e-3, 9.06e-3, 9.1e-3, 9.07e-3, 9.09e-3, 9.12e-3, 9.08e-3, 9.11e-3, 9.09e-3,
  9.13e-3, 9.1e-3, 9.12e-3, 9.15e-3, 9.11e-3, 9.14e-3, 9.1e-3, 9.13e-3, 9.16e-3, 9.12e-3,
  9.15e-3, 9.12e-3, 9.16e-3, 9.14e-3, 9.18e-3, 9.15e-3, 9.13e-3, 9.17e-3, 9.15e-3, 9.14e-3, 9.13e-3
];
const z4R400 = [
  5.8e-3, 5.83e-3, 5.78e-3, 5.85e-3, 5.82e-3, 5.86e-3, 5.8e-3, 5.84e-3, 5.88e-3, 5.83e-3,
  5.87e-3, 5.85e-3, 5.89e-3, 5.86e-3, 5.9e-3, 5.88e-3, 5.86e-3, 5.91e-3, 5.89e-3, 5.92e-3,
  5.88e-3, 5.91e-3, 5.94e-3, 5.9e-3, 5.93e-3, 5.89e-3, 5.92e-3, 5.95e-3, 5.91e-3, 5.94e-3,
  5.9e-3, 5.93e-3, 5.96e-3, 5.92e-3, 5.95e-3, 5.9e-3, 5.93e-3, 5.97e-3, 5.94e-3, 5.91e-3,
  5.95e-3, 5.93e-3, 5.97e-3, 5.94e-3, 5.96e-3, 5.92e-3, 5.95e-3, 5.98e-3, 5.94e-3, 5.97e-3,
  5.95e-3, 5.99e-3, 5.96e-3, 6.0e-3, 5.97e-3, 6.02e-3, 5.99e-3, 6.03e-3, 6.0e-3, 6.02e-3, 6.0e-3
];
const z4R800 = [
  8.52e-3, 8.48e-3, 8.55e-3, 8.5e-3, 8.57e-3, 8.53e-3, 8.49e-3, 8.56e-3, 8.52e-3, 8.58e-3,
  8.55e-3, 8.6e-3, 8.54e-3, 8.58e-3, 8.62e-3, 8.57e-3, 8.6e-3, 8.55e-3, 8.59e-3, 8.63e-3,
  8.6e-3, 8.57e-3, 8.62e-3, 8.58e-3, 8.61e-3, 8.56e-3, 8.6e-3, 8.64e-3, 8.59e-3, 8.62e-3,
  8.58e-3, 8.63e-3, 8.6e-3, 8.65e-3, 8.61e-3, 8.66e-3, 8.62e-3, 8.6e-3, 8.64e-3, 8.67e-3,
  8.63e-3, 8.6e-3, 8.65e-3, 8.62e-3, 8.66e-3, 8.63e-3, 8.68e-3, 8.64e-3, 8.61e-3, 8.66e-3,
  8.7e-3, 8.65e-3, 8.62e-3, 8.67e-3, 8.72e-3, 8.68e-3, 8.64e-3, 8.7e-3, 8.73e-3, 8.66e-3, 8.55e-3
];
const z4R1100 = [
  7.52e-3, 7.45e-3, 7.6e-3, 7.48e-3, 7.56e-3, 7.42e-3, 7.55e-3, 7.63e-3, 7.5e-3, 7.58e-3,
  7.45e-3, 7.55e-3, 7.5e-3, 7.62e-3, 7.48e-3, 7.44e-3, 7.57e-3, 7.5e-3, 7.6e-3, 7.47e-3,
  7.53e-3, 7.42e-3, 7.55e-3, 7.5e-3, 7.58e-3, 7.46e-3, 7.52e-3, 7.48e-3, 7.56e-3, 7.5e-3,
  7.44e-3, 7.52e-3, 7.48e-3, 7.65e-3, 7.7e-3, 7.6e-3, 7.68e-3, 7.55e-3, 7.5e-3, 7.58e-3,
  7.52e-3, 7.45e-3, 7.55e-3, 7.62e-3, 7.72e-3, 7.66e-3, 7.58e-3, 7.5e-3, 7.56e-3, 7.48e-3,
  7.52e-3, 7.6e-3, 7.5e-3, 7.45e-3, 7.55e-3, 7.48e-3, 7.52e-3, 7.44e-3, 7.58e-3, 7.62e-3, 7.65e-3
];

// ---------- styling ----------
const COLORS = ['#000000', '#ff0000', '#0000ff', '#008000'];
// dense runs of symbols merge into a nearly solid ribbon
const TINTS = ['rgba(0,0,0,0.8)', 'rgba(255,0,0,0.8)', 'rgba(0,0,255,0.8)', 'rgba(0,128,0,0.8)'];
const SHAPES = ['rect', 'circle', 'triangle', 'triangle'];
const ROT = [0, 0, 0, 180];
const R_MAIN = [5.7, 5, 7, 7];
const R_INSET = [3.2, 2.7, 4.2, 4.2];
const R_LEGEND = [8.5, 6.3, 8.8, 8.8];
const FONT = 'Arial, "Liberation Sans", Helvetica, sans-serif';
const X_MIN = -195, X_MAX = 3760;

const fig = document.getElementById('fig');

function font(size, bold) {
  return (bold ? 'bold ' : '') + size + 'px ' + FONT;
}

function makeCanvas(left, top, w, h) {
  const c = document.createElement('canvas');
  c.width = w;
  c.height = h;
  c.style.left = left + 'px';
  c.style.top = top + 'px';
  c.style.width = w + 'px';
  c.style.height = h + 'px';
  fig.appendChild(c);
  return c;
}

// evenly spaced tick positions, skipping the labelled ones
function minorTicks(from, to, step, majors, lo, hi) {
  const out = [];
  const n = Math.round((to - from) / step);
  for (let k = 0; k <= n; k++) {
    const v = from + k * step;
    if (v <= lo || v >= hi) continue;
    if (majors.some(m => Math.abs(m - v) < step * 1e-3)) continue;
    out.push(v);
  }
  return out;
}

function logMinor(decades) {
  const out = [];
  for (let i = 0; i < decades.length - 1; i++)
    for (let m = 2; m <= 9; m++) out.push(m * Math.pow(10, decades[i]));
  return out;
}

function drawMarker(ctx, i, x, y, r) {
  ctx.beginPath();
  if (SHAPES[i] === 'rect') {
    const h = r * Math.SQRT1_2;
    ctx.rect(x - h, y - h, 2 * h, 2 * h);
  } else if (SHAPES[i] === 'circle') {
    ctx.arc(x, y, r, 0, Math.PI * 2);
  } else {
    let a = ROT[i] * Math.PI / 180;
    ctx.moveTo(x + Math.sin(a) * r, y - Math.cos(a) * r);
    a += 2 * Math.PI / 3;
    ctx.lineTo(x + Math.sin(a) * r, y - Math.cos(a) * r);
    a += 2 * Math.PI / 3;
    ctx.lineTo(x + Math.sin(a) * r, y - Math.cos(a) * r);
    ctx.closePath();
  }
  ctx.fill();
  ctx.stroke();
}

// rotated "Current density, i/Acm2" with raised 2
function drawYTitle(ctx, cx, cy, t) {
  const text = 'Current density, i/Acm';
  ctx.save();
  ctx.translate(cx, cy);
  ctx.rotate(-Math.PI / 2);
  ctx.font = font(t.size, t.bold);
  const w1 = ctx.measureText(text).width;
  ctx.font = font(t.sup, t.bold);
  const w2 = ctx.measureText('2').width;
  const x0 = -(w1 + w2) / 2;
  ctx.textAlign = 'left';
  ctx.textBaseline = 'middle';
  ctx.fillStyle = '#000';
  ctx.font = font(t.size, t.bold);
  ctx.fillText(text, x0, 0);
  ctx.font = font(t.sup, t.bold);
  ctx.fillText('2', x0 + w1 + 0.5, -t.rise);
  ctx.restore();
}

function drawLegend(ctx, L, top) {
  const [l, t, r, b] = L.box;
  const y0 = t - top, w = r - l, h = b - t;
  ctx.fillStyle = '#000';
  ctx.fillRect(l + L.shadow[0], y0 + L.shadow[1], w, h);
  ctx.fillStyle = '#fff';
  ctx.fillRect(l, y0, w, h);
  ctx.strokeStyle = '#000';
  ctx.lineWidth = 1.2;
  ctx.strokeRect(l, y0, w, h);

  ctx.fillStyle = '#000';
  ctx.font = font(L.size, true);
  ctx.textBaseline = 'middle';
  ctx.textAlign = 'center';
  ctx.fillText('applied potential : ' + L.pot, L.titleX, L.titleY - top);

  L.rows.forEach(([i, y, x1, x2, mx, tx, align]) => {
    const yy = y - top;
    ctx.strokeStyle = COLORS[i];
    ctx.lineWidth = 1;
    ctx.beginPath();
    ctx.moveTo(x1, yy);
    ctx.lineTo(x2, yy);
    ctx.stroke();
    ctx.fillStyle = '#fff';
    ctx.lineWidth = 1.2;
    drawMarker(ctx, i, mx, yy, R_LEGEND[i]);
    ctx.fillStyle = '#000';
    ctx.textAlign = align;
    ctx.fillText(seriesNames[i], tx, yy);
  });
}

// dotted red window over the zoomed range plus leader lines to the inset
function drawZoom(ctx, sx, sy, s) {
  const [t0, t1, v0, v1] = s.zoom.box;
  const l = sx.getPixelForValue(t0), r = sx.getPixelForValue(t1);
  const top = sy.getPixelForValue(v1), bot = sy.getPixelForValue(v0);
  ctx.strokeStyle = '#ff0000';
  ctx.lineWidth = 3;
  ctx.setLineDash([6, 4]);
  ctx.beginPath();
  if (ctx.roundRect) ctx.roundRect(l, top, r - l, bot - top, 7);
  else ctx.rect(l, top, r - l, bot - top);
  ctx.stroke();

  const [il, it, ir, ib] = s.zoom.inset;
  const from = { tl: [l, top], tr: [r, top], bl: [l, bot], br: [r, bot] };
  const to = { tl: [il, it - s.top], tr: [ir, it - s.top], bl: [il, ib - s.top], br: [ir, ib - s.top] };
  ctx.lineWidth = 2.6;
  ctx.setLineDash([3.5, 5]);
  ctx.beginPath();
  s.zoom.links.forEach(([a, b]) => {
    ctx.moveTo(from[a][0], from[a][1]);
    ctx.lineTo(to[b][0], to[b][1]);
  });
  ctx.stroke();
  ctx.setLineDash([]);
}

// frame, inward ticks, labels and titles drawn over the library's scales
function decor(s) {
  return {
    id: 'decor',
    beforeDatasetsDraw(chart) {
      if (!s.fillArea) return;
      const { ctx, chartArea: a } = chart;
      ctx.save();
      ctx.fillStyle = '#fff';
      ctx.fillRect(a.left, a.top, a.right - a.left, a.bottom - a.top);
      ctx.restore();
    },
    afterDatasetsDraw(chart) {
      const { ctx, chartArea: a } = chart;
      const sx = chart.scales.x, sy = chart.scales.y;
      ctx.save();
      ctx.strokeStyle = '#000';
      ctx.fillStyle = '#000';

      ctx.lineWidth = s.tickW;
      ctx.beginPath();
      const xTick = (v, len) => {
        const p = sx.getPixelForValue(v);
        ctx.moveTo(p, a.bottom); ctx.lineTo(p, a.bottom - len);
        ctx.moveTo(p, a.top); ctx.lineTo(p, a.top + len);
      };
      const yTick = (v, len) => {
        const p = sy.getPixelForValue(v);
        ctx.moveTo(a.left, p); ctx.lineTo(a.left + len, p);
        ctx.moveTo(a.right, p); ctx.lineTo(a.right - len, p);
      };
      s.xMajor.forEach(v => xTick(v, s.major));
      s.xMinor.forEach(v => xTick(v, s.minor));
      s.yMajor.forEach(v => yTick(v, s.major));
      s.yMinor.forEach(v => yTick(v, s.minor));
      ctx.stroke();

      ctx.lineWidth = s.frameW;
      ctx.strokeRect(a.left, a.top, a.right - a.left, a.bottom - a.top);

      ctx.textBaseline = 'middle';
      ctx.textAlign = 'center';
      ctx.font = font(s.xLabelSize, true);
      s.xMajor.forEach(v => ctx.fillText(String(v), sx.getPixelForValue(v), a.bottom + s.xLabelDy));

      if (s.logLabels) {
        s.yMajor.forEach(v => {
          const p = sy.getPixelForValue(v);
          ctx.font = font(15, true);
          ctx.textAlign = 'right';
          ctx.fillText('10', a.left - 16, p);
          ctx.font = font(10, true);
          ctx.textAlign = 'left';
          ctx.fillText(String(Math.round(Math.log10(v))), a.left - 15.5, p - 5);
        });
      } else {
        ctx.font = font(s.yLabelSize, true);
        ctx.textAlign = 'right';
        s.yMajor.forEach(v => ctx.fillText(v.toFixed(s.decimals), a.left - 3, sy.getPixelForValue(v)));
      }

      ctx.textAlign = 'center';
      ctx.font = font(s.xTitleSize, true);
      ctx.fillText('Time, t/s', (a.left + a.right) / 2 + s.xTitleDx, a.bottom + s.xTitleDy);
      drawYTitle(ctx, s.yTitleX - s.left, (a.top + a.bottom) / 2, s.yTitle);

      if (s.zoom) drawZoom(ctx, sx, sy, s);
      if (s.legend) drawLegend(ctx, s.legend, s.top);
      ctx.restore();
    }
  };
}

function baseOptions(padding, xMin, xMax, yType, yMin, yMax) {
  return {
    responsive: false,
    animation: false,
    events: [],
    devicePixelRatio: 1,
    layout: { padding },
    plugins: { legend: { display: false }, tooltip: { enabled: false } },
    scales: {
      x: { type: 'linear', display: false, min: xMin, max: xMax },
      y: { type: yType, display: false, min: yMin, max: yMax }
    }
  };
}

// ---------- main log plots ----------
function buildMain(p) {
  const cv = makeCanvas(0, p.top, 579, p.h);
  const [l, t, r, b] = p.area;
  const time = p.head.concat(tMain);
  const open = p.head.length;
  const datasets = p.series.map((vals, i) => {
    const last = vals.length - 1;
    return {
      label: seriesNames[i],
      data: vals.map((v, k) => ({ x: time[k], y: v })),
      order: 3 - i,
      borderColor: COLORS[i],
      borderWidth: 1,
      pointStyle: SHAPES[i],
      pointRotation: ROT[i],
      pointRadius: R_MAIN[i],
      pointBorderWidth: 1,
      pointBorderColor: COLORS[i],
      pointBackgroundColor: c => (c.dataIndex < open || c.dataIndex === last) ? '#ffffff' : TINTS[i]
    };
  });
  const yMajor = p.decades.map(e => Math.pow(10, e));
  const padding = { left: l, top: t - p.top, right: 579 - r, bottom: p.top + p.h - b };
  new Chart(cv, {
    type: 'line',
    data: { datasets },
    options: baseOptions(padding, X_MIN, X_MAX, 'logarithmic', yMajor[0], yMajor[yMajor.length - 1]),
    plugins: [decor({
      left: 0, top: p.top,
      xMajor: xTickLabels,
      xMinor: minorTicks(-200, 3800, 200, xTickLabels, X_MIN, X_MAX),
      yMajor, yMinor: logMinor(p.decades),
      major: 7, minor: 4, tickW: 1.2, frameW: 1.6,
      xLabelSize: 15, xLabelDy: 13, logLabels: true,
      xTitleSize: 18, xTitleDx: 2, xTitleDy: 49,
      yTitleX: 28.5, yTitle: { size: 17, sup: 11, rise: 7, bold: true },
      zoom: p.zoom, legend: p.legend
    })]
  });
}

// ---------- close-up insets ----------
function buildInset(q) {
  const [l, t, r, b] = q.area;
  const cl = Math.floor(l - 52), ct = Math.floor(t - 8);
  const cw = Math.ceil(r + 6) - cl, ch = Math.ceil(b + 26) - ct;
  const cv = makeCanvas(cl, ct, cw, ch);
  const datasets = q.series.map(([i, vals]) => ({
    label: seriesNames[i],
    data: vals.map((v, k) => ({ x: q.time[k], y: v })),
    order: 3 - i,
    borderColor: COLORS[i],
    borderWidth: 1,
    pointStyle: SHAPES[i],
    pointRotation: ROT[i],
    pointRadius: R_INSET[i] * q.scale,
    pointBorderWidth: 1.1,
    pointBorderColor: COLORS[i],
    pointBackgroundColor: '#ffffff'
  }));
  const padding = { left: l - cl, top: t - ct, right: cl + cw - r, bottom: ct + ch - b };
  new Chart(cv, {
    type: 'line',
    data: { datasets },
    options: baseOptions(padding, q.x[0], q.x[1], 'linear', q.yTicks[0], q.yTicks[q.yTicks.length - 1]),
    plugins: [decor({
      left: cl, top: ct, fillArea: true,
      xMajor: q.xTicks,
      xMinor: minorTicks(q.x[0], q.x[1], q.xStep, q.xTicks, q.x[0], q.x[1]),
      yMajor: q.yTicks,
      yMinor: minorTicks(q.yTicks[0], q.yTicks[q.yTicks.length - 1], q.yStep, q.yTicks, q.yTicks[0], q.yTicks[q.yTicks.length - 1]),
      major: 4, minor: 2.5, tickW: 1, frameW: 1.2,
      xLabelSize: 7.5, xLabelDy: q.labelDy, yLabelSize: 7.5, decimals: q.decimals,
      xTitleSize: 9.5, xTitleDx: -4, xTitleDy: q.titleDy,
      yTitleX: q.yTitleX, yTitle: { size: 8.5, sup: 5.5, rise: 3.5, bold: false }
    })]
  });
}

const insetAreas = [
  [311.5, 134.5, 564, 290],
  [328, 541.7, 561, 686.7],
  [348.3, 950.7, 556, 1077.7],
  [302.7, 1191.7, 564.3, 1335]
];
const downLinks = [['bl', 'tl'], ['br', 'tr']];
const upLinks = [['tl', 'bl'], ['tr', 'br']];

buildMain({
  top: 0, h: 386, area: [87, 14, 576, 317], decades: decades1, head: p1Head,
  series: [p1Static, p1R400, p1R800, p1R1100],
  zoom: { box: [2997, 3685, 0.0164, 0.0441], inset: insetAreas[0], links: downLinks },
  legend: {
    pot: potentials[0], box: [94, 224, 262, 303], shadow: [6, 5], size: 13, titleX: 183, titleY: 239,
    rows: [[0, 253.4, 118, 148, 133, 162, 'left'], [1, 268.5, 118, 148, 133, 162, 'left'],
           [2, 281.8, 118, 148, 133, 162, 'left'], [3, 296.8, 118, 148, 133, 153, 'left']]
  }
});
buildMain({
  top: 376, h: 400, area: [87, 391, 576, 718], decades: decades2, head: p2Head,
  series: [p2Static, p2R400, p2R800, p2R1100],
  zoom: { box: [2992, 3671, 3.1e-4, 1.17e-3], inset: insetAreas[1], links: downLinks },
  legend: {
    pot: potentials[1], box: [346, 395, 574, 446], shadow: [5, 5], size: 13, titleX: 452, titleY: 408,
    rows: [[0, 423, 357, 387, 372, 400, 'left'], [1, 423, 463, 493, 478, 557, 'right'],
           [2, 439, 357, 387, 372, 400, 'left'], [3, 439, 463, 493, 478, 557, 'right']]
  }
});
buildMain({
  top: 776, h: 390, area: [87, 790, 576, 1103], decades: decades3, head: p3Head,
  series: [p3Static, p3R400, p3R800, p3R1100],
  zoom: { box: [2358, 3690, 3.43e-5, 2.16e-4], inset: insetAreas[2], links: downLinks },
  legend: {
    pot: potentials[2], box: [100, 1000, 287, 1093], shadow: [6, 6], size: 15, titleX: 197, titleY: 1015,
    rows: [[0, 1031.7, 127, 160, 143, 173, 'left'], [1, 1048, 127, 160, 143, 173, 'left'],
           [2, 1066.7, 127, 160, 143, 173, 'left'], [3, 1083, 127, 160, 143, 165, 'left']]
  }
});
buildMain({
  top: 1160, h: 384, area: [87, 1176, 576, 1487], decades: decades4, head: p4Head,
  series: [p4Static, p4R400, p4R800, p4R1100],
  zoom: { box: [2336, 3687, 0.00406, 0.0126], inset: insetAreas[3], links: upLinks },
  legend: {
    pot: potentials[3], box: [109, 1423, 367, 1475], shadow: [5, 5], size: 14, titleX: 217, titleY: 1437,
    rows: [[0, 1451.7, 122, 155, 138, 168, 'left'], [1, 1451.7, 243, 277, 260, 347, 'right'],
           [2, 1467.3, 122, 155, 138, 168, 'left'], [3, 1467.3, 243, 277, 260, 347, 'right']]
  }
});

buildInset({
  area: insetAreas[0], time: tZoom20, x: [3000, 3700], xTicks: zoomTicksShort, xStep: 50,
  yTicks: zoom1Y, yStep: 0.001, decimals: 3, scale: 1.15,
  labelDy: 7, titleDy: 18.5, yTitleX: 281,
  series: [[0, z1Static], [1, z1R400], [2, z1R800], [3, z1R1100]]
});
buildInset({
  area: insetAreas[1], time: tZoom10, x: [3000, 3700], xTicks: zoomTicksShort, xStep: 50,
  yTicks: zoom2Y, yStep: 0.00005, decimals: 4, scale: 1.2,
  labelDy: 6.5, titleDy: 18, yTitleX: 292,
  series: [[0, z2Static], [1, z2R400], [2, z2R800], [3, z2R1100]]
});
buildInset({
  area: insetAreas[2], time: tZoomLong, x: [2400, 3700], xTicks: zoomTicksLong, xStep: 100,
  yTicks: zoom3Y, yStep: 0.00001, decimals: 5, scale: 1.3,
  labelDy: 7.5, titleDy: 18.5, yTitleX: 313,
  series: [[1, z3R400], [2, z3R800], [3, z3R1100]]
});
buildInset({
  area: insetAreas[3], time: tZoomLong, x: [2400, 3700], xTicks: zoomTicksLong, xStep: 100,
  yTicks: zoom4Y, yStep: 0.0005, decimals: 3, scale: 1.35,
  labelDy: 6.5, titleDy: 17, yTitleX: 265,
  series: [[0, z4Static], [1, z4R400], [2, z4R800], [3, z4R1100]]
});
</script>
</body>
</html>
